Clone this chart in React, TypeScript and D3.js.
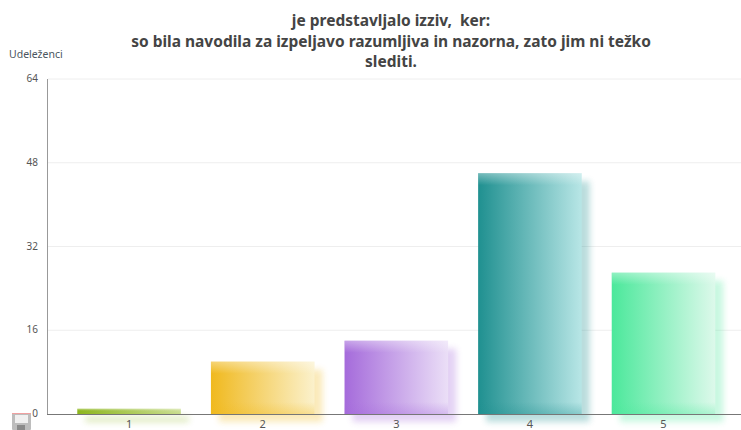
import React from "react";
import * as d3 from "d3";

const categories = ["1", "2", "3", "4", "5"];
const values = [1, 10, 14, 46, 27];
const colors = ["#8DB61E", "#F0B91E", "#A56BDB", "#1F9090", "#4BE89B"];
const lightColors = ["#E0EBBB", "#FBF1CC", "#EBDFF7", "#B8E6E6", "#DDF9EB"];
const yTicks = [0, 16, 32, 48, 64];
const titleLines = [
  "je predstavljalo izziv,  ker:",
  "so bila navodila za izpeljavo razumljiva in nazorna, zato jim ni težko",
  "slediti.",
];
const yLabel = "Udeleženci";

const W = 741, H = 430;
const plot = { left: 48, right: 741, top: 79, bottom: 414 };
const font = "'Noto Sans', sans-serif";
const titleBaselines = [26, 47, 67];

export default function App() {
  const y = d3.scaleLinear().domain([0, 64]).range([plot.bottom, plot.top]);
  const x = d3.scaleBand<string>().domain(categories).range([62.3, 730.3]).paddingInner(0.225).paddingOuter(0.1125);
  return (
    <svg width={W} height={H} viewBox={`0 0 ${W} ${H}`} style={{ position: "fixed", left: 0, top: 0, background: "#fff" }}>
      <defs>
        <filter id="blur" x="-30%" y="-100%" width="160%" height="300%">
          <feGaussianBlur stdDeviation="3.2" />
        </filter>
        {colors.map((c, i) => (
          <linearGradient key={c} id={`g${i}`} x1="0" x2="1" y1="0" y2="0">
            <stop offset="0" stopColor={c} />
            <stop offset="1" stopColor={lightColors[i]} />
          </linearGradient>
        ))}
      </defs>
      {titleLines.map((t, i) => (
        <text key={i} x={391} y={titleBaselines[i]} textAnchor="middle" xmlSpace="preserve" fontFamily={font} fontWeight={700} fontSize={15.5} fill="#444">
          {t}
        </text>
      ))}
      <text x={9} y={58} fontFamily={font} fontSize={10.5} fill="#4a5560">{yLabel}</text>
      {yTicks.map((t) => (
        <g key={t}>
          {t > 0 && <line x1={plot.left} x2={plot.right} y1={y(t)} y2={y(t)} stroke="#eeeeee" />}
          <text x={38} y={y(t) + 3} textAnchor="end" fontFamily={font} fontSize={10} fill="#555">{t}</text>
        </g>
      ))}
      {categories.map((c, i) => {
        const bx = x(c)!, bw = x.bandwidth(), by = y(values[i]), bh = plot.bottom - by;
        return (
          <g key={c}>
            <linearGradient id={`t${i}`} gradientUnits="userSpaceOnUse" x1="0" x2="0" y1={by} y2={by + Math.min(12, bh * 0.4)}>
              <stop offset="0" stopColor="#fff" stopOpacity={0.38} />
              <stop offset="1" stopColor="#fff" stopOpacity={0} />
            </linearGradient>
            <linearGradient id={`b${i}`} gradientUnits="userSpaceOnUse" x1="0" x2="0" y1={plot.bottom - 12} y2={plot.bottom}>
              <stop offset="0" stopColor={colors[i]} stopOpacity={0} />
              <stop offset="1" stopColor={colors[i]} stopOpacity={0.3} />
            </linearGradient>
            <rect x={bx + 8} y={by + 8} width={bw} height={bh} fill={colors[i]} opacity={0.3} filter="url(#blur)" />
            <rect x={bx} y={by} width={bw} height={bh} fill={`url(#g${i})`} />
            <rect x={bx} y={by} width={bw} height={bh} fill={`url(#b${i})`} />
            <rect x={bx} y={by} width={bw} height={bh} fill={`url(#t${i})`} />
          </g>
        );
      })}
      <line x1={plot.left - 0.5} x2={plot.left - 0.5} y1={plot.top} y2={plot.bottom} stroke="#999" />
      <line x1={plot.left - 1} x2={plot.right} y1={plot.bottom + 0.5} y2={plot.bottom + 0.5} stroke="#777" />
      {categories.map((c) => (
        <text key={c} x={x(c)! + x.bandwidth() / 2} y={428} textAnchor="middle" fontFamily={font} fontSize={11} fill="#555">{c}</text>
      ))}
      <g>
        <rect x={12} y={413} width={19} height={17} rx={1} fill="#bdbdbd" />
        <rect x={12} y={413} width={19} height={1} fill="#f0a0a0" />
        <rect x={15} y={415} width={13} height={8} fill="#f0f0f0" />
        <rect x={17} y={425} width={8} height={5} fill="#8a8a8a" />
      </g>
    </svg>
  );
}
